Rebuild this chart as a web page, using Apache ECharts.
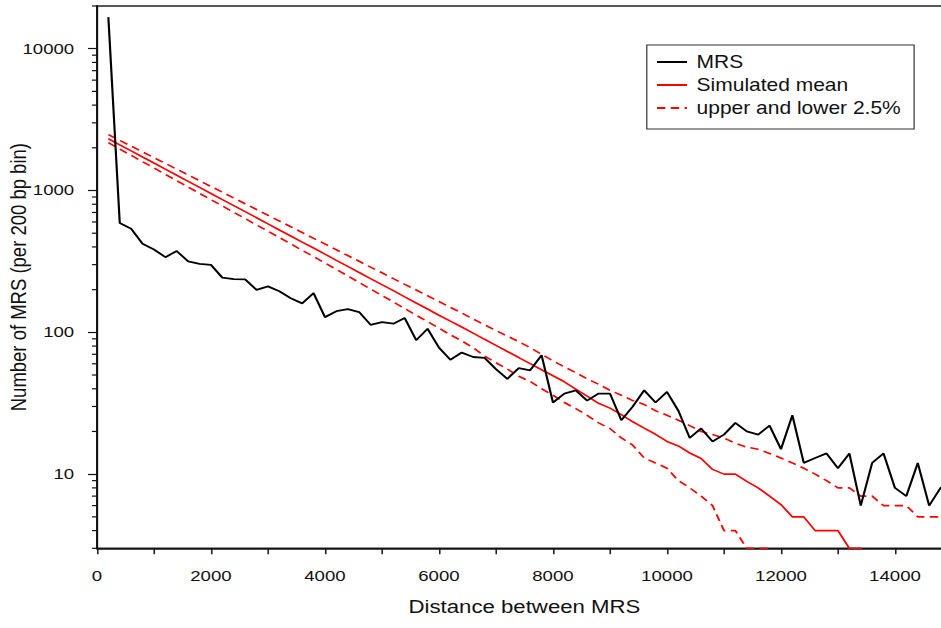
<!DOCTYPE html>
<html>
<head>
<meta charset="utf-8">
<script src="https://cdn.jsdelivr.net/npm/echarts@6/dist/echarts.min.js"></script>
<style>
  html, body { margin: 0; padding: 0; background: #fff; overflow: hidden; }
  /* the figure is drawn 1.2x wider than tall, as in the published plot */
  #chart { width: 785px; height: 628px; transform: scaleX(1.2); transform-origin: 0 0; }
</style>
</head>
<body>
<div id="chart"></div>
<script>
// Distance between neighbouring MRS, 200 bp bins
const distance = [
  200, 400, 600, 800, 1000, 1200, 1400, 1600, 1800, 2000,
  2200, 2400, 2600, 2800, 3000, 3200, 3400, 3600, 3800, 4000,
  4200, 4400, 4600, 4800, 5000, 5200, 5400, 5600, 5800, 6000,
  6200, 6400, 6600, 6800, 7000, 7200, 7400, 7600, 7800, 8000,
  8200, 8400, 8600, 8800, 9000, 9200, 9400, 9600, 9800, 10000,
  10200, 10400, 10600, 10800, 11000, 11200, 11400, 11600, 11800, 12000,
  12200, 12400, 12600, 12800, 13000, 13200, 13400, 13600, 13800, 14000,
  14200, 14400, 14600, 14800, 15000
];

// Observed MRS counts per bin
const mrsCounts = [
  16700, 590, 537, 421, 384, 339, 374, 316, 304, 299,
  243, 237, 236, 199, 211, 195, 174, 160, 189, 128,
  141, 146, 139, 113, 118, 115, 126, 88, 106, 78,
  64, 72, 67, 66, 55, 47, 56, 54, 69, 32,
  37, 39, 33, 37, 37, 24, 30, 39, 32, 38,
  28, 18, 21, 17, 19, 23, 20, 19, 22, 15,
  26, 12, 13, 14, 11, 14, 6, 12, 14, 8,
  7, 12, 6, 8, 9
];

// Mean of the simulated (random placement) counts
const simulatedMean = [
  2317, 2099, 1901, 1722, 1562, 1415, 1282, 1161, 1052, 953,
  863, 783, 709, 643, 582, 527, 478, 433, 393, 356,
  322, 292, 264, 239, 217, 197, 178, 161, 146, 132,
  120, 109, 98.6, 89.3, 80.9, 73.3, 66.4, 60.1, 54.5, 49.4,
  44.8, 39.8, 35.5, 31.6, 29.2, 26.3, 23.4, 21.1, 19.1, 17.0,
  15.8, 14.1, 12.9, 10.8, 10, 10, 8.9, 8.0, 7.0, 6.1,
  5, 5, 4, 4, 4, 3, 3, 2, 2, 2,
  2, 1, 1, 1, 1
];

// Upper 2.5% quantile of the simulations
const upper25 = [
  2477, 2256, 2055, 1872, 1706, 1553, 1414, 1288, 1173, 1068,
  973, 886, 807, 735, 669, 610, 555, 506, 460, 420,
  382, 348, 317, 288, 263, 239, 218, 199, 181, 165,
  150, 137, 124, 113, 103, 94, 86, 78, 70, 63,
  57, 52, 47, 43, 39, 36, 33, 31, 28, 26,
  24, 22, 20, 19, 18, 16.5, 15.5, 15, 14, 13,
  12, 11, 10, 9, 8, 8, 7, 7, 6, 6,
  6, 5, 5, 5, 5
];

// Lower 2.5% quantile of the simulations
const lower25 = [
  2173, 1960, 1770, 1596, 1442, 1300, 1173, 1059, 955, 862,
  778, 702, 634, 572, 516, 466, 420, 379, 342, 308,
  278, 250, 225, 202, 182, 164, 147, 132, 119, 107,
  96, 87, 78, 68, 61, 55, 49, 45, 40, 36,
  32, 29, 26, 23, 21, 18, 16, 13, 12, 11,
  9, 8, 7, 6, 4, 4, 3, 3, 3, 2,
  2, 2, 2, 1, 1, 1, 1, 1, 1, 1,
  1, 1, 1, 1, 1
];

// Minor tick values on the log count axis
const yMinorTicks = [
  3, 4, 5, 6, 7, 8, 9,
  20, 30, 40, 50, 60, 70, 80, 90,
  200, 300, 400, 500, 600, 700, 800, 900,
  2000, 3000, 4000, 5000, 6000, 7000, 8000, 9000,
  20000
];

const yMajorLabels = [10, 100, 1000, 10000];

const pairs = ys => distance.map((d, i) => [d, ys[i]]);

const FONT = 'Liberation Sans, Arial, Helvetica, sans-serif';
const dash = [7, 4.5];

const chart = echarts.init(document.getElementById('chart'), null, { renderer: 'svg' });

chart.setOption({
  animation: false,
  backgroundColor: '#fff',
  textStyle: { fontFamily: FONT },
  grid: {
    left: 80.8, top: 6, width: 712.5, height: 542.3,
    outerBoundsMode: 'none', containLabel: false,
    show: true, borderColor: '#222', borderWidth: 1.5, backgroundColor: 'transparent'
  },
  legend: {
    data: ['MRS', 'Simulated mean', 'upper and lower 2.5%'],
    orient: 'vertical',
    left: 539, top: 45,
    padding: [7, 11, 11, 7.5],
    itemWidth: 25, itemHeight: 14, itemGap: 3,
    borderColor: '#333', borderWidth: 1,
    backgroundColor: '#fff',
    itemStyle: { opacity: 0 },
    textStyle: { fontFamily: FONT, fontSize: 17.5, color: '#111', lineHeight: 20, padding: [0, 0, 0, 3] }
  },
  xAxis: {
    type: 'value', min: 0, max: 15000, interval: 1000,
    name: 'Distance between MRS', nameLocation: 'middle', nameGap: 49, nameMoveOverlap: false,
    nameTextStyle: { fontFamily: FONT, fontSize: 18.5, color: '#111' },
    axisLine: { show: true, lineStyle: { color: '#111', width: 1.6 } },
    axisTick: { show: true, length: 6, lineStyle: { color: '#111', width: 1.2 } },
    axisLabel: {
      margin: 20, fontFamily: FONT, fontSize: 15.5, color: '#111',
      formatter: v => (v % 2000 === 0 ? String(v) : '')
    },
    splitLine: { show: false }
  },
  yAxis: {
    type: 'log', logBase: 10, min: 3, max: 20000,
    name: 'Number of MRS (per 200 bp bin)', nameLocation: 'middle', nameRotate: 90, nameGap: 56,
    nameMoveOverlap: false,
    nameTextStyle: { fontFamily: FONT, fontSize: 18.5, color: '#111' },
    axisLine: { show: true, lineStyle: { color: '#111', width: 1.6 } },
    axisTick: { show: true, length: 7.5, lineStyle: { color: '#111', width: 1.2 } },
    axisLabel: {
      margin: 19, fontFamily: FONT, fontSize: 15.5, color: '#111',
      showMinLabel: false, showMaxLabel: false,
      formatter: v => (yMajorLabels.indexOf(Math.round(v)) >= 0 ? String(Math.round(v)) : '')
    },
    splitLine: { show: false }
  },
  series: [
    {
      name: 'upper and lower 2.5%', type: 'line', data: pairs(upper25),
      symbol: 'none', lineStyle: { color: '#ff0000', width: 1.6, type: dash }, itemStyle: { color: '#ff0000' }, z: 2
    },
    {
      name: 'upper and lower 2.5%', type: 'line', data: pairs(lower25),
      symbol: 'none', lineStyle: { color: '#ff0000', width: 1.6, type: dash }, itemStyle: { color: '#ff0000' }, z: 2
    },
    {
      name: 'Simulated mean', type: 'line', data: pairs(simulatedMean),
      symbol: 'none', lineStyle: { color: '#ff0000', width: 1.6 }, itemStyle: { color: '#ff0000' }, z: 3
    },
    {
      name: 'MRS', type: 'line', data: pairs(mrsCounts),
      symbol: 'none', lineStyle: { color: '#000', width: 1.8 }, itemStyle: { color: '#000' }, z: 4
    },
    {
      // short minor ticks at 2..9 x 10^k on the log axis
      name: 'minor ticks', type: 'custom', silent: true, clip: false,
      data: yMinorTicks.map(v => [0, v]),
      encode: { x: 0, y: 1 },
      renderItem: (params, api) => {
        const p = api.coord([0, api.value(1)]);
        return {
          type: 'line',
          shape: { x1: p[0] - 4.2, y1: p[1], x2: p[0], y2: p[1] },
          style: { stroke: '#111', lineWidth: 1.2 }
        };
      }
    }
  ]
});
</script>
</body>
</html>
